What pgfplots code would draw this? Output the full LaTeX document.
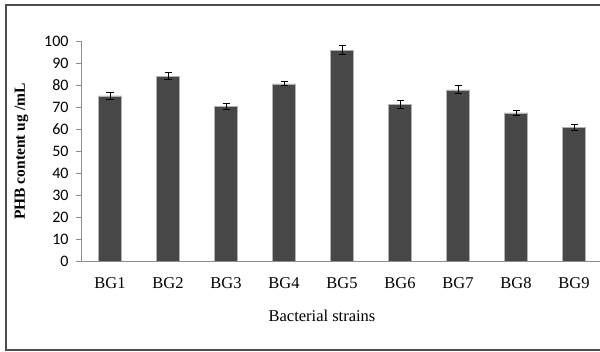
\documentclass[border=0pt]{standalone}
\usepackage{pgfplots}
\pgfplotsset{compat=1.18}
\usepackage{fontspec}
\setmainfont{Liberation Serif}
\newfontfamily\carlito{Carlito}
\definecolor{barfill}{HTML}{474747}
\definecolor{axgray}{HTML}{8C8C8C}
\begin{document}
\begin{tikzpicture}
\path[use as bounding box] (0,0) rectangle (600bp,352bp);
\draw[line width=1.2bp, black!70] (606bp,347bp) -- (6bp,347bp) -- (6bp,2bp) -- (606bp,2bp);
\begin{axis}[
  at={(81bp,91bp)}, anchor=south west,
  scale only axis, width=522bp, height=220bp,
  xmin=-0.5, xmax=8.5, ymin=0, ymax=100,
  axis x line*=bottom, axis y line*=left,
  axis line style={-, axgray, line width=0.8bp},
  xtick=data,
  xticklabels={BG1,BG2,BG3,BG4,BG5,BG6,BG7,BG8,BG9},
  x tick style={draw=none},
  xticklabel style={font=\fontsize{16.5bp}{16.5bp}\selectfont, yshift=-8bp},
  ytick={0,10,...,100},
  y tick style={axgray, line width=0.8bp},
  tick align=outside, major tick length=5bp,
  /pgf/number format/assume math mode=true,
  yticklabel style={font=\carlito\fontsize{16bp}{16bp}\selectfont, xshift=-4bp},
  xlabel={Bacterial strains},
  xlabel style={font=\fontsize{16.5bp}{16.5bp}\selectfont, at={(axis description cs:0.4617,-0.25)}, anchor=center},
  ylabel={\textbf{PHB content ug /mL}},
  ylabel style={font=\fontsize{15.5bp}{15.5bp}\selectfont, at={(axis description cs:-0.114,0.4977)}, anchor=center},
  ybar, bar width=23bp,
]
\addplot[fill=barfill, draw=gray!60, line width=0.4bp,
  error bars/.cd, y dir=both, y explicit,
  error bar style={black, line width=1bp},
  error mark options={rotate=90, mark size=3.5bp, black, line width=1bp}]
  table[x=x, y=y, y error=e] {
x y e
0 75.0 1.75
1 84.0 1.5
2 70.4 1.4
3 80.5 0.9
4 95.8 2.0
5 71.1 1.8
6 77.8 1.8
7 67.3 1.3
8 60.7 1.3
};
\end{axis}
\end{tikzpicture}
\end{document}
